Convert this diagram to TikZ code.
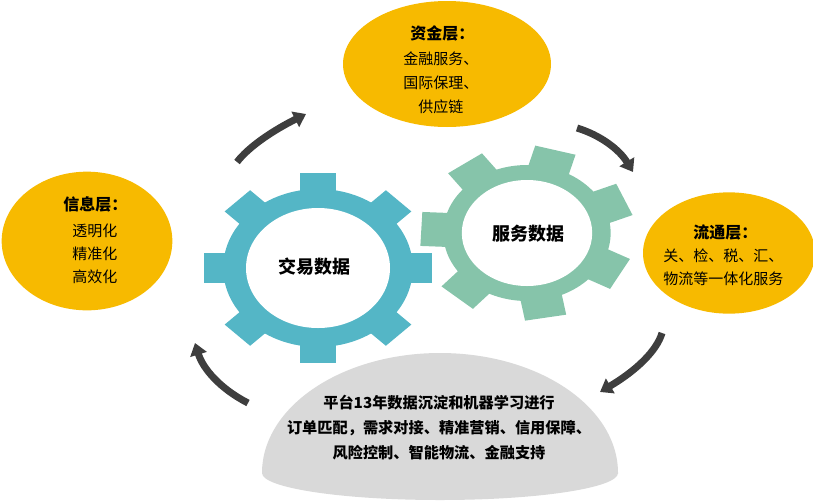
\documentclass[tikz,border=0pt]{standalone}
\usepackage{fontspec}
\newfontfamily\cjk{Noto Sans CJK SC}
\usetikzlibrary{shapes.geometric,arrows.meta,calc}
\definecolor{gold}{RGB}{247,186,0}
\definecolor{gearblue}{RGB}{84,182,198}
\definecolor{geargreen}{RGB}{134,196,170}
\definecolor{domegray}{RGB}{217,217,217}
\definecolor{arrowgray}{RGB}{62,62,62}
\begin{document}
\begin{tikzpicture}[x=0.75pt,y=-0.75pt,
  layer/.style={ellipse, fill=gold, draw=none, inner sep=0pt},
  hdr/.style={anchor=west, inner sep=0pt, font=\cjk\bfseries\fontsize{12}{14}\selectfont},
  body/.style={anchor=west, inner sep=0pt, font=\cjk\fontsize{11.25}{13}\selectfont},
  gearlbl/.style={inner sep=0pt, font=\cjk\bfseries\fontsize{13.5}{16}\selectfont},
  domelbl/.style={inner sep=0pt, align=center, font=\cjk\bfseries\fontsize{11.4}{18.75}\selectfont},
  cyc/.style={draw=arrowgray, line width=5.25pt, line cap=butt,
    -{Triangle[width=12.5pt,length=9pt]}}]
\useasboundingbox (0,0) rectangle (813,500);

% yellow layer ellipses
\node[layer, minimum width=156pt, minimum height=94.5pt] (top) at (447,64) {};
\node[layer, minimum width=128pt, minimum height=104pt] (left) at (87,241) {};
\node[layer, minimum width=129pt, minimum height=91pt] (right) at (729,253) {};

% gray dome
\begin{scope}
  \clip (0,0) rectangle (813,473);
  \fill[domegray] (440,473) ellipse [x radius=178, y radius=120];
\end{scope}
\fill[domegray] (440,473) ellipse [x radius=178, y radius=27];

% blue gear
\begin{scope}[shift={(318,268)}, xscale=1.2]
  \fill[gearblue] (0,0) circle [radius=79];
  \foreach \a in {0,45,...,315}
    \fill[gearblue, rotate=\a] (0,-15) rectangle (95,15);
  \fill[white] (0,0) circle [radius=60];
\end{scope}

% green gear
\begin{scope}[shift={(527,233)}, xscale=1.23]
  \fill[geargreen] (0,0) circle [radius=68];
  \foreach \a in {23,74.43,125.86,177.29,228.71,280.14,331.57}
    \fill[geargreen, rotate=\a] (0,-17) rectangle (86,17);
  \fill[white] (0,0) circle [radius=53];
\end{scope}

\node[gearlbl] (trade) at (314,267) {交易数据};
\node[gearlbl] (service) at (528,234) {服务数据};

% cycle arrows
\coordinate (a1s) at (237,162); \coordinate (a1c) at (254,140); \coordinate (a1e) at (306,114);
\coordinate (a2s) at (577,128); \coordinate (a2c) at (613,139); \coordinate (a2e) at (633,172);
\coordinate (a3s) at (662,333); \coordinate (a3c) at (654,360); \coordinate (a3e) at (600,392);
\coordinate (a4s) at (248,403); \coordinate (a4c) at (207,382); \coordinate (a4e) at (195,343);
\foreach \i in {1,2,3,4}
  \draw[cyc] (a\i s) .. controls ($(a\i s)!0.667!(a\i c)$) and ($(a\i e)!0.667!(a\i c)$) .. (a\i e);

% texts
\node[hdr] (fundh) at (410,33) {资金层：};
\node[body] (fund1) at (403,59) {金融服务、};
\node[body] (fund2) at (403,83) {国际保理、};
\node[body] (fund3) at (418,107) {供应链};

\node[hdr] (infoh) at (63,204) {信息层：};
\node[body] (info1) at (72,231) {透明化};
\node[body] (info2) at (72,254) {精准化};
\node[body] (info3) at (72,277) {高效化};

\node[hdr] (circh) at (693,232) {流通层：};
\node[body] (circ1) at (663,256) {关、检、税、汇、};
\node[body] (circ2) at (663,279) {物流等一体化服务};

\node[domelbl] (platform) at (439,428) {平台13年数据沉淀和机器学习进行\\订单匹配，需求对接、精准营销、信用保障、\\风险控制、智能物流、金融支持};
\end{tikzpicture}
\end{document}
